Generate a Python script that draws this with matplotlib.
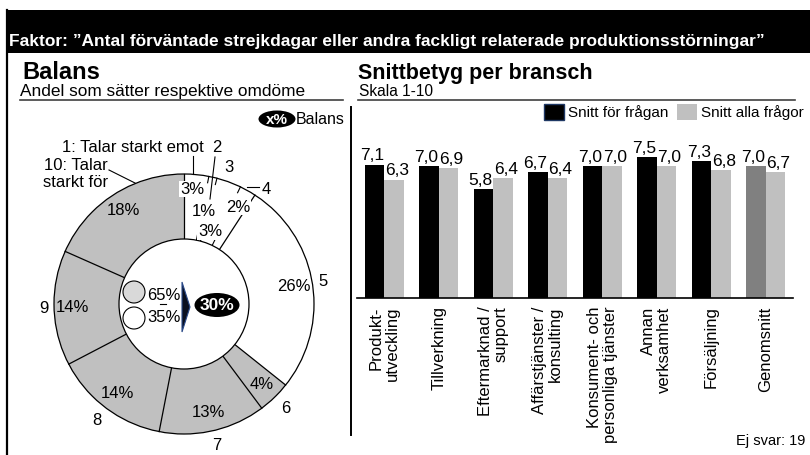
import matplotlib
matplotlib.use("Agg")
import matplotlib.pyplot as plt
from matplotlib.patches import Rectangle, Ellipse, Circle, Polygon, Patch
import numpy as np

plt.rcParams['font.family'] = ['Liberation Sans', 'DejaVu Sans']

# ---------------- data ----------------
title = "Faktor: \u201dAntal förväntade strejkdagar eller andra fackligt relaterade produktionsstörningar\u201d"
pie_labels = ["1", "2", "3", "4", "5", "6", "7", "8", "9", "10"]
pie_values = [3, 1, 3, 2, 26, 4, 13, 14, 14, 18]
balance_pos = 65
balance_neg = 35
balance = 30

categories = ["Produkt-\nutveckling", "Tillverkning", "Eftermarknad /\nsupport",
              "Affärstjänster /\nkonsulting", "Konsument- och\npersonliga tjänster",
              "Annan\nverksamhet", "Försäljning", "Genomsnitt"]
snitt_fragan = [7.1, 7.0, 5.8, 6.7, 7.0, 7.5, 7.3, 7.0]
snitt_alla = [6.3, 6.9, 6.4, 6.4, 7.0, 7.0, 6.8, 6.7]
no_answer = 19

W, H = 810, 455
fig = plt.figure(figsize=(W / 100, H / 100), dpi=100)

def fbox(x0, y0, x1, y1):
    return [x0 / W, 1 - y1 / H, (x1 - x0) / W, (y1 - y0) / H]

# overlay in pixel coordinates
ov = fig.add_axes([0, 0, 1, 1])
ov.set_xlim(0, W)
ov.set_ylim(H, 0)
ov.axis('off')

GRAY = '#c0c0c0'

# banner
ov.add_patch(Rectangle((7, 10), W - 7, 43, facecolor='black', edgecolor='none'))
ov.text(9, 46, title, color='white', fontsize=12.5, fontweight='bold',
        va='baseline', ha='left')
# frame lines
ov.plot([7, 7], [10, 455], color='black', lw=1.6)
ov.plot([351, 351], [107, 435], color='black', lw=1.4)
ov.plot([20, 343], [100, 100], color='#404040', lw=1.2)
ov.plot([358, 795], [100, 100], color='#404040', lw=1.2)

# headings
ov.text(22, 79, "Balans", fontsize=17, fontweight='bold', va='baseline')
ov.text(20, 96, "Andel som sätter respektive omdöme", fontsize=12.4, va='baseline')
ov.text(358, 79, "Snittbetyg per bransch", fontsize=15.5, fontweight='bold', va='baseline')
ov.text(359, 96, "Skala 1-10", fontsize=11.2, va='baseline')

# x% Balans legend
ov.add_patch(Ellipse((277, 119), 37, 17, facecolor='black', edgecolor='none'))
ov.text(277, 119.5, "x%", color='white', fontsize=11, fontweight='bold', ha='center', va='center')
ov.text(296, 119, "Balans", fontsize=11.5, ha='left', va='center')

ov.text(805, 441, f"Ej svar: {no_answer}", fontsize=10.5, ha='right', va='center')

# ---------------- pie ----------------
cx, cy, R = 184, 304, 130
half = 150
axp = fig.add_axes(fbox(cx - half, cy - half, cx + half, cy + half))

colors = ['white'] * 5 + [GRAY] * 5
axp.pie(pie_values, startangle=90, counterclock=False, colors=colors, radius=1,
        wedgeprops=dict(width=0.5, edgecolor='none'))
lim = half / R
axp.set_xlim(-lim, lim)
axp.set_ylim(-lim, lim)
axp.set_aspect('equal')
axp.axis('off')
axp.add_patch(Circle((0, 0), 1, fill=False, edgecolor='black', lw=0.9))
axp.add_patch(Circle((0, 0), 0.5, facecolor='white', edgecolor='black', lw=0.9, zorder=3))

def P(x, y):
    return ((x - cx) / R, (cy - y) / R)

tot = float(sum(pie_values))
cum = np.cumsum([0] + pie_values) / tot * 360.0  # degrees clockwise from top
n = len(pie_values)
for i in range(n):
    a = np.deg2rad(cum[i])
    prev_v = pie_values[i - 1]
    v = pie_values[i]
    sx, sy = np.sin(a), np.cos(a)
    if prev_v < 5 and v < 5:
        axp.plot([0.5 * sx, 0.56 * sx], [0.5 * sy, 0.56 * sy], color='black', lw=0.8)
        axp.plot([0.95 * sx, 1.0 * sx], [0.95 * sy, 1.0 * sy], color='black', lw=0.8)
    else:
        axp.plot([0.5 * sx, sx], [0.5 * sy, sy], color='black', lw=0.9)

mids = (cum[:-1] + cum[1:]) / 2
fs = 12
# percentages for big segments placed at mid angle
for i in range(4, n):
    a = np.deg2rad(mids[i])
    axp.text(0.86 * np.sin(a), 0.86 * np.cos(a), f"{pie_values[i]}%", fontsize=fs,
             ha='center', va='center')
for i in range(4, 9):
    a = np.deg2rad(mids[i])
    r = 1.08 if i in (4, 8) else 1.12
    axp.text(r * np.sin(a), r * np.cos(a), pie_labels[i], fontsize=fs,
             ha='center', va='center')

# small segments percentages (custom placed)
small_pos = [(192, 189), (204, 212), (210, 232), (238, 207)]
bb = dict(boxstyle='square,pad=0.05', facecolor='white', edgecolor='none')
for i, (x, y) in enumerate(small_pos):
    axp.text(*P(x, y), f"{pie_values[i]}%", fontsize=fs, ha='center', va='center',
             bbox=bb, zorder=5)

# outer labels for small segments and 10
axp.text(*P(62, 147), "1: Talar starkt emot", fontsize=fs, ha='left', va='center')
axp.plot(*zip(P(193, 156), P(193, 174)), color='black', lw=0.8)
axp.text(*P(217, 148), pie_labels[1], fontsize=fs, ha='center', va='center')
axp.plot(*zip(P(215, 157), P(210, 199)), color='black', lw=0.8, zorder=4)
axp.text(*P(229, 168), pie_labels[2], fontsize=fs, ha='center', va='center')
axp.text(*P(266, 189), pie_labels[3], fontsize=fs, ha='center', va='center')
axp.plot(*zip(P(247, 187), P(259, 187)), color='black', lw=0.8)
axp.text(*P(108, 174), "10: Talar\nstarkt för", fontsize=fs, ha='right', va='center',
         linespacing=1.15)
axp.plot(*zip(P(109, 170), P(135, 183)), color='black', lw=0.8)

# centre content
axp.add_patch(Circle(P(134, 292), 11 / R, facecolor='#d9d9d9', edgecolor='black', lw=0.8, zorder=4))
axp.add_patch(Circle(P(134, 318), 11 / R, facecolor='white', edgecolor='black', lw=0.8, zorder=4))
axp.text(*P(164, 295), f"{balance_pos}%", fontsize=fs, ha='center', va='center', zorder=5)
axp.text(*P(164, 318), f"{balance_neg}%", fontsize=fs, ha='center', va='center', zorder=5)
axp.plot(*zip(P(160, 304), P(166, 304)), color='black', lw=0.8, zorder=5)
axp.add_patch(Polygon([P(182, 282), P(190, 307), P(182, 332)], closed=True,
                      facecolor='#0a1020', edgecolor='#2a4a8a', lw=0.8, zorder=5))
axp.add_patch(Ellipse(P(217, 305), 45 / R, 24 / R, facecolor='black', edgecolor='none', zorder=5))
axp.text(*P(217, 305.5), f"{balance}%", color='white', fontsize=12.5, fontweight='bold',
         ha='center', va='center', zorder=6)

# ---------------- bars ----------------
axb = fig.add_axes(fbox(357, 110, 793, 298))
x = np.arange(len(categories))
bw = 0.36
c1 = ['black'] * (len(categories) - 1) + ['#808080']
axb.bar(x - bw / 2, snitt_fragan, bw, color=c1, edgecolor='none')
axb.bar(x + bw / 2, snitt_alla, bw, color=GRAY, edgecolor='none')
for xi, v in zip(x, snitt_fragan):
    axb.text(xi - bw / 2 - 0.05, v + 0.22, f"{v:.1f}".replace('.', ','), fontsize=12.5,
             ha='center', va='baseline')
for xi, v in zip(x, snitt_alla):
    axb.text(xi + bw / 2 + 0.05, v + 0.22, f"{v:.1f}".replace('.', ','), fontsize=12.5,
             ha='center', va='baseline')
axb.set_xlim(-0.5, len(categories) - 0.5)
axb.set_ylim(0, 10)
for s in ['top', 'right', 'left']:
    axb.spines[s].set_visible(False)
axb.spines['bottom'].set_linewidth(1.2)
axb.set_yticks([])
axb.set_xticks(x)
axb.set_xticklabels(categories, rotation=90, fontsize=12, ha='center', va='top',
                    multialignment='right', linespacing=1.1)
axb.tick_params(axis='x', length=0, pad=6)
axb.patch.set_alpha(0)

handles = [Patch(facecolor='black', edgecolor='#1f3864', lw=1.0, label='Snitt för frågan'),
           Patch(facecolor=GRAY, edgecolor='none', label='Snitt alla frågor')]
fig.legend(handles=handles, loc='upper left', bbox_to_anchor=(541 / W, 1 - 101 / H),
           ncol=2, frameon=False, fontsize=11, handlelength=1.3, handleheight=1.2,
           handletextpad=0.25, columnspacing=0.6, borderpad=0.2, borderaxespad=0)

fig.savefig("out.png", dpi=100)
